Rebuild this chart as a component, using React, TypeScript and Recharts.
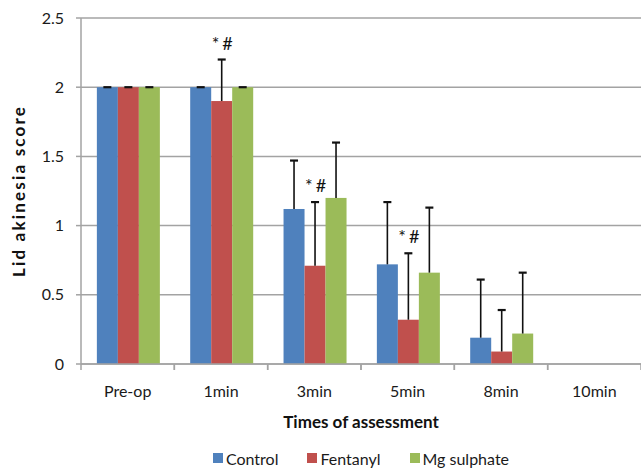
import { Bar, BarChart, CartesianGrid, Legend, XAxis, YAxis } from "recharts";

const FONT = "Lato, 'Open Sans', sans-serif";
const BLUE = "#4F81BD";
const RED = "#C0504D";
const GREEN = "#9BBB59";
const GRID = "#a3a3a3";

const categories = ["Pre-op", "1min", "3min", "5min", "8min", "10min"];
const control = [2, 2, 1.12, 0.72, 0.19, 0];
const controlSd = [0, 0, 0.35, 0.45, 0.42, 0];
const fentanyl = [2, 1.9, 0.71, 0.32, 0.09, 0];
const fentanylSd = [0, 0.3, 0.46, 0.48, 0.3, 0];
const mgSulphate = [2, 2, 1.2, 0.66, 0.22, 0];
const mgSulphateSd = [0, 0, 0.4, 0.47, 0.44, 0];
const marks = ["", "*#", "*#", "*#", "", ""];
const yTicks = [0, 0.5, 1, 1.5, 2, 2.5];

const data = categories.map((cat, i) => ({
  cat,
  control: control[i],
  controlSd: controlSd[i],
  fentanyl: fentanyl[i],
  fentanylSd: fentanylSd[i],
  mg: mgSulphate[i],
  mgSd: mgSulphateSd[i],
  mark: marks[i],
}));

// bar + one-sided (upper) error bar, scaled from the bar's own pixel height
const barShape = (key: string, sdKey: string, color: string, withMark = false) => (props: any) => {
  const { x, y, width, height, payload } = props;
  const v = payload[key];
  const sd = payload[sdKey];
  if (!v) return <g />;
  const top = y - (sd * height) / v;
  const cx = x + width / 2;
  return (
    <g>
      <rect x={x} y={y} width={width} height={height} fill={color} />
      {sd > 0 && <line x1={cx} x2={cx} y1={y} y2={top} stroke="#111" strokeWidth={1.6} />}
      <line x1={cx - 4} x2={cx + 4} y1={top} y2={top} stroke="#111" strokeWidth={2.2} />
      {withMark && payload.mark && (
        <text
          x={cx + 2}
          y={top - 10}
          textAnchor="middle"
          fontSize={18}
          fontFamily={FONT}
          letterSpacing={3}
          fill="#111"
        >
          {payload.mark}
        </text>
      )}
    </g>
  );
};

const CatTick = (props: any) => {
  const { x, y, payload } = props;
  const half = payload.offset ?? 560 / 12;
  return (
    <g>
      <line x1={x - half} x2={x - half} y1={y} y2={y + 6} stroke={GRID} strokeWidth={1.5} />
      <line x1={x + half} x2={x + half} y1={y} y2={y + 6} stroke={GRID} strokeWidth={1.5} />
      <text x={x} y={y + 33} textAnchor="middle" fontSize={16} fontFamily={FONT} fill="#1a1a1a">
        {payload.value}
      </text>
    </g>
  );
};

const LegendBox = (props: any) => (
  <div
    style={{
      display: "flex",
      justifyContent: "center",
      alignItems: "center",
      gap: 29,
      height: 22,
      fontFamily: FONT,
      fontSize: 16,
      color: "#1a1a1a",
    }}
  >
    {(props.payload || []).map((p: any) => (
      <span key={p.value} style={{ display: "flex", alignItems: "center" }}>
        <span style={{ width: 10, height: 10, background: p.color, marginRight: 3, display: "inline-block" }} />
        {p.value}
      </span>
    ))}
  </div>
);

export default function App() {
  return (
    <div>
      <style>{"body{margin:0}"}</style>
      <BarChart
        width={641}
        height={469}
        data={data}
        margin={{ top: 18, right: 0, left: 0, bottom: 0 }}
        barCategoryGap="17%"
        barGap={0}
      >
        <CartesianGrid stroke={GRID} strokeWidth={1.5} vertical={false} />
        <XAxis
          dataKey="cat"
          height={83}
          tickLine={false}
          tickSize={0}
          tickMargin={0}
          axisLine={{ stroke: GRID, strokeWidth: 1.5 }}
          tick={CatTick}
          interval={0}
          label={{
            value: "Times of assessment",
            position: "insideBottom",
            offset: 19,
            fill: "#111",
            fontSize: 17,
            fontWeight: 700,
            fontFamily: FONT,
          }}
        />
        <YAxis
          width={81}
          domain={[0, 2.5]}
          ticks={yTicks}
          tickFormatter={(v) => String(v)}
          tickSize={5}
          tickMargin={12}
          axisLine={{ stroke: GRID, strokeWidth: 1.5 }}
          tickLine={{ stroke: GRID, strokeWidth: 1.5 }}
          tick={{ fill: "#1a1a1a", fontSize: 16, fontFamily: FONT }}
          label={{
            value: "Lid akinesia score",
            angle: -90,
            position: "insideLeft",
            offset: 19,
            fill: "#111",
            fontSize: 17,
            fontWeight: 700,
            fontFamily: FONT,
            letterSpacing: 2.2,
            style: { textAnchor: "middle" },
          }}
        />
        <Legend verticalAlign="bottom" content={LegendBox} wrapperStyle={{ left: 81, width: 560 }} />
        <Bar dataKey="control" name="Control" fill={BLUE} isAnimationActive={false} shape={barShape("control", "controlSd", BLUE)} />
        <Bar dataKey="fentanyl" name="Fentanyl" fill={RED} isAnimationActive={false} shape={barShape("fentanyl", "fentanylSd", RED, true)} />
        <Bar dataKey="mg" name="Mg sulphate" fill={GREEN} isAnimationActive={false} shape={barShape("mg", "mgSd", GREEN)} />
      </BarChart>
    </div>
  );
}
